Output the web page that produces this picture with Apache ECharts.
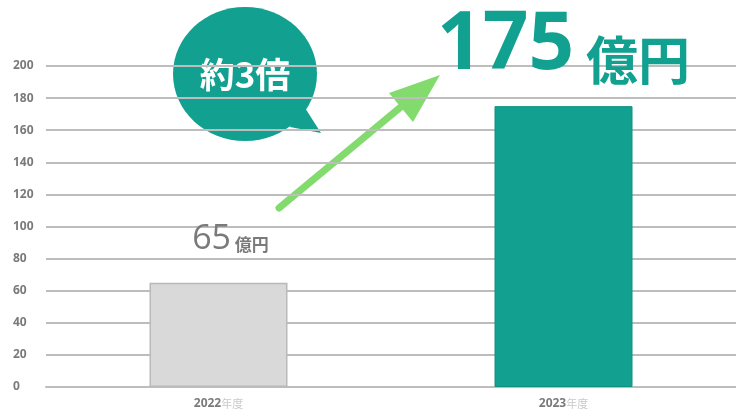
<!DOCTYPE html>
<html lang="ja">
<head>
    <meta charset="UTF-8" />
    <title>売上推移</title>
    <script src="https://cdn.jsdelivr.net/npm/echarts@6/dist/echarts.min.js"></script>
    <style>
        html, body { margin: 0; padding: 0; background: #fff; }
    </style>
</head>
<body>
<div id="main" style="width: 736px;height:412px;"></div>
<script type="text/javascript">
    // データ
    var years = ['2022', '2023'];
    var yearSuffix = '年度';
    var sales = [65, 175];
    var yTicks = [0, 20, 40, 60, 80, 100, 120, 140, 160, 180, 200];

    var teal = '#12a190';
    var gray = '#7a7a7a';

    var myChart = echarts.init(document.getElementById('main'));
    var option = {
        animation: false,
        grid: { left: 46, right: 0, top: 66, bottom: 25 },
        xAxis: {
            type: 'category',
            data: years,
            axisTick: { show: false },
            axisLine: { lineStyle: { color: '#bdbdbd', width: 2 } },
            axisLabel: {
                margin: 11,
                formatter: function (v) { return '{y|' + v + '}{n|' + yearSuffix + '}'; },
                rich: {
                    y: { fontSize: 12, fontWeight: 'bold', color: gray, fontFamily: 'Noto Sans' },
                    n: { fontSize: 11, color: '#c9c9c9', fontFamily: 'Noto Sans CJK JP' }
                }
            }
        },
        yAxis: {
            type: 'value',
            min: yTicks[0],
            max: yTicks[yTicks.length - 1],
            interval: 20,
            axisLine: { show: false },
            axisTick: { show: false },
            axisLabel: {
                align: 'left',
                margin: 33,
                fontSize: 12,
                fontWeight: 'bold',
                color: gray,
                fontFamily: 'Noto Sans'
            },
            splitLine: { lineStyle: { color: '#bdbdbd', width: 2 } }
        },
        series: [{
            type: 'bar',
            barWidth: 138,
            data: [
                {
                    value: sales[0],
                    itemStyle: { color: '#d9d9d9', borderColor: '#b9b9b9', borderWidth: 1.5 },
                    label: {
                        show: true, position: 'top', distance: 26, offset: [12, 0],
                        formatter: '{a|' + sales[0] + '}{b| 億円}',
                        rich: {
                            a: { fontSize: 34, color: gray, fontFamily: 'Open Sans', verticalAlign: 'bottom' },
                            b: { fontSize: 17, fontWeight: 'bold', color: gray, fontFamily: 'Noto Sans CJK JP', verticalAlign: 'bottom', padding: [0, 0, 4, 0] }
                        }
                    }
                },
                {
                    value: sales[1],
                    itemStyle: { color: teal, borderColor: '#0f9282', borderWidth: 1 },
                    label: {
                        show: true, position: 'top', distance: 20,
                        formatter: '{a|' + sales[1] + '}{b| 億円}',
                        rich: {
                            a: { fontSize: 80, fontWeight: 'bold', color: teal, fontFamily: 'Noto Sans', verticalAlign: 'bottom' },
                            b: { fontSize: 52, fontWeight: 'bold', color: teal, fontFamily: 'Noto Sans CJK JP', verticalAlign: 'bottom', padding: [0, 0, 0, 0] }
                        }
                    }
                }
            ]
        }],
        graphic: [
            {
                type: 'group', z: 100,
                children: [
                    { type: 'polyline', shape: { points: [[279, 208], [408, 101]] },
                      style: { stroke: '#83db6e', lineWidth: 7, lineCap: 'round', fill: null } },
                    { type: 'polygon', shape: { points: [[440, 75], [389, 93], [413, 122]] },
                      style: { fill: '#83db6e' } },
                    { type: 'ellipse', shape: { cx: 245, cy: 74, rx: 72, ry: 67 },
                      style: { fill: teal } },
                    { type: 'polygon', shape: { points: [[300, 100], [321, 133], [290, 127]] },
                      style: { fill: teal } },
                    { type: 'text', x: 245, y: 75,
                      style: { text: '約3倍', fill: '#fff', font: 'bold 35px "Noto Sans CJK JP"',
                               textAlign: 'center', textVerticalAlign: 'middle' } }
                ]
            }
        ]
    };
    myChart.setOption(option);
</script>
</body>
</html>
